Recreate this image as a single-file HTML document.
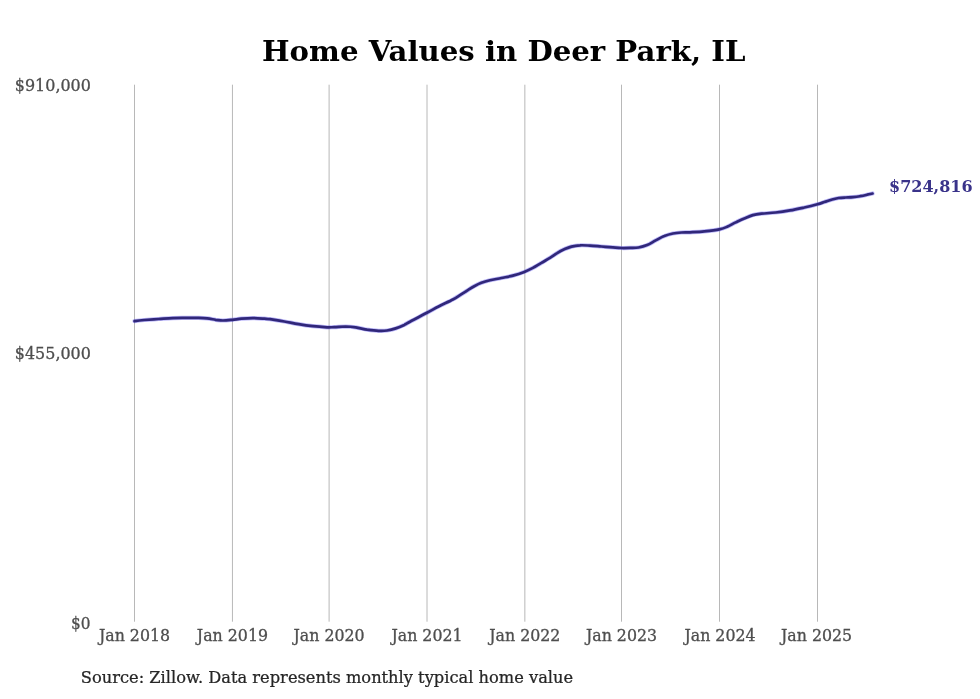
<!DOCTYPE html>
<html lang="en">
<head>
<meta charset="utf-8">
<title>Home Values in Deer Park, IL</title>
<style>
html,body{margin:0;padding:0;background:#fff;}
body{width:980px;height:699px;overflow:hidden;}
svg{display:block;}
text{font-family:"DejaVu Serif","Liberation Serif",serif;}
.title{font-size:29px;font-weight:bold;fill:#000;}
.tick{font-size:15.8px;fill:#4e4e4e;stroke:#4e4e4e;stroke-width:0.3px;}
.src{font-size:16.27px;fill:#262626;stroke:#262626;stroke-width:0.25px;}
.val{font-size:16.7px;font-weight:bold;fill:#3a338a;}
.grid line{stroke:#b8b8b8;stroke-width:1;}
</style>
</head>
<body>
<svg width="980" height="699" viewBox="0 0 980 699">
<rect width="980" height="699" fill="#ffffff"/>
<text class="title" transform="translate(503.75,60.75) scale(1.0065,0.977)" text-anchor="middle">Home Values in Deer Park, IL</text>
<g class="grid">
<line x1="134.50" y1="84.7" x2="134.50" y2="621.7"/>
<line x1="232.45" y1="84.7" x2="232.45" y2="621.7"/>
<line x1="329.10" y1="84.7" x2="329.10" y2="621.7"/>
<line x1="427.00" y1="84.7" x2="427.00" y2="621.7"/>
<line x1="524.85" y1="84.7" x2="524.85" y2="621.7"/>
<line x1="621.50" y1="84.7" x2="621.50" y2="621.7"/>
<line x1="719.50" y1="84.7" x2="719.50" y2="621.7"/>
<line x1="817.50" y1="84.7" x2="817.50" y2="621.7"/>
</g>
<g class="tick">
<text transform="translate(90.9,90.7) scale(1.01,1)" text-anchor="end">$910,000</text>
<text transform="translate(90.9,358.7) scale(1.01,1)" text-anchor="end">$455,000</text>
<text transform="translate(90.6,628.5) scale(0.97,1)" text-anchor="end">$0</text>
<text x="134.50" y="641.1" text-anchor="middle">Jan 2018</text>
<text x="232.45" y="641.1" text-anchor="middle">Jan 2019</text>
<text x="329.10" y="641.1" text-anchor="middle">Jan 2020</text>
<text x="427.00" y="641.1" text-anchor="middle">Jan 2021</text>
<text x="524.85" y="641.1" text-anchor="middle">Jan 2022</text>
<text x="621.50" y="641.1" text-anchor="middle">Jan 2023</text>
<text x="720.00" y="641.1" text-anchor="middle">Jan 2024</text>
<text x="816.60" y="641.1" text-anchor="middle">Jan 2025</text>
</g>
<path d="M134.5,321.1 C136.1,320.9 140.3,320.4 144.3,320.0 C148.3,319.7 153.8,319.3 158.6,319.0 C163.4,318.7 168.2,318.3 172.9,318.1 C177.7,317.9 182.8,317.9 187.1,317.8 C191.4,317.8 195.3,317.9 198.6,317.9 C201.9,318.0 204.2,318.1 207.1,318.4 C209.9,318.7 213.1,319.4 215.7,319.8 C218.3,320.1 220.1,320.5 222.9,320.5 C225.7,320.5 229.3,320.1 232.4,319.8 C235.5,319.5 238.0,319.0 241.4,318.7 C244.8,318.4 249.1,318.1 252.9,318.1 C256.7,318.1 261.4,318.5 264.3,318.7 C267.2,318.9 266.7,318.7 270.0,319.2 C273.3,319.7 279.5,320.7 284.3,321.5 C289.1,322.3 293.8,323.4 298.6,324.1 C303.4,324.9 308.1,325.6 312.9,326.2 C317.6,326.7 323.5,327.1 327.1,327.3 C330.7,327.4 331.2,327.2 334.3,327.1 C337.4,327.0 342.1,326.5 345.7,326.5 C349.3,326.6 352.1,326.9 355.7,327.4 C359.3,327.9 363.3,329.1 367.1,329.7 C370.9,330.2 375.3,330.7 378.6,330.8 C381.9,331.0 384.2,330.9 387.1,330.5 C390.0,330.1 392.8,329.4 395.7,328.4 C398.6,327.5 401.9,326.0 404.3,324.9 C406.7,323.7 406.2,323.7 410.0,321.7 C413.8,319.7 422.1,315.4 426.9,312.8 C431.7,310.3 434.3,308.7 438.6,306.5 C442.9,304.3 449.3,301.4 452.9,299.5 C456.5,297.6 457.6,296.7 460.0,295.2 C462.4,293.7 464.7,292.1 467.1,290.6 C469.5,289.1 471.9,287.5 474.3,286.2 C476.7,284.9 478.8,283.8 481.4,282.8 C484.0,281.8 486.7,281.0 490.0,280.2 C493.3,279.4 497.6,278.8 501.4,278.0 C505.2,277.2 509.1,276.6 512.9,275.6 C516.7,274.6 521.0,273.2 524.3,271.9 C527.6,270.6 530.0,269.4 532.9,267.9 C535.8,266.4 538.5,264.5 541.4,262.9 C544.2,261.2 547.4,259.4 550.0,257.8 C552.6,256.2 554.7,254.5 557.1,253.1 C559.5,251.6 561.9,250.3 564.3,249.2 C566.7,248.2 568.8,247.3 571.4,246.6 C574.0,245.9 576.9,245.4 580.0,245.3 C583.1,245.1 586.4,245.4 590.0,245.6 C593.6,245.8 597.6,246.2 601.4,246.5 C605.2,246.8 609.6,247.1 612.9,247.3 C616.2,247.6 618.5,247.9 621.4,248.0 C624.2,248.1 627.1,248.0 630.0,247.9 C632.9,247.8 635.8,248.0 638.6,247.5 C641.5,247.0 644.2,246.3 647.1,245.1 C650.0,243.9 652.8,241.9 655.7,240.4 C658.6,238.9 661.4,237.2 664.3,236.1 C667.2,234.9 670.0,234.1 672.9,233.5 C675.8,232.9 678.5,232.7 681.4,232.5 C684.2,232.3 686.2,232.5 690.0,232.3 C693.8,232.1 699.4,231.9 704.3,231.4 C709.2,230.9 715.5,230.2 719.3,229.4 C723.1,228.6 724.4,228.0 727.1,226.8 C729.8,225.6 732.8,223.8 735.7,222.4 C738.6,221.0 741.4,219.6 744.3,218.4 C747.2,217.2 750.0,215.9 752.9,215.1 C755.8,214.3 757.6,214.1 761.4,213.7 C765.2,213.3 770.9,213.1 775.7,212.5 C780.5,211.9 785.2,211.2 790.0,210.4 C794.8,209.6 799.7,208.5 804.3,207.5 C808.9,206.5 814.1,205.2 817.4,204.3 C820.7,203.4 822.0,202.8 824.3,202.0 C826.6,201.3 829.0,200.4 831.4,199.7 C833.8,199.1 836.2,198.4 838.6,198.0 C841.0,197.6 843.3,197.6 845.7,197.5 C848.1,197.4 850.5,197.4 852.9,197.2 C855.3,197.0 857.6,196.7 860.0,196.2 C862.4,195.8 865.0,195.2 867.1,194.7 C869.2,194.3 871.6,193.7 872.5,193.5" fill="none" stroke="#5f55f0" stroke-opacity="0.42" stroke-width="4.2" stroke-linecap="round" stroke-linejoin="round"/>
<path d="M134.5,321.1 C136.1,320.9 140.3,320.4 144.3,320.0 C148.3,319.7 153.8,319.3 158.6,319.0 C163.4,318.7 168.2,318.3 172.9,318.1 C177.7,317.9 182.8,317.9 187.1,317.8 C191.4,317.8 195.3,317.9 198.6,317.9 C201.9,318.0 204.2,318.1 207.1,318.4 C209.9,318.7 213.1,319.4 215.7,319.8 C218.3,320.1 220.1,320.5 222.9,320.5 C225.7,320.5 229.3,320.1 232.4,319.8 C235.5,319.5 238.0,319.0 241.4,318.7 C244.8,318.4 249.1,318.1 252.9,318.1 C256.7,318.1 261.4,318.5 264.3,318.7 C267.2,318.9 266.7,318.7 270.0,319.2 C273.3,319.7 279.5,320.7 284.3,321.5 C289.1,322.3 293.8,323.4 298.6,324.1 C303.4,324.9 308.1,325.6 312.9,326.2 C317.6,326.7 323.5,327.1 327.1,327.3 C330.7,327.4 331.2,327.2 334.3,327.1 C337.4,327.0 342.1,326.5 345.7,326.5 C349.3,326.6 352.1,326.9 355.7,327.4 C359.3,327.9 363.3,329.1 367.1,329.7 C370.9,330.2 375.3,330.7 378.6,330.8 C381.9,331.0 384.2,330.9 387.1,330.5 C390.0,330.1 392.8,329.4 395.7,328.4 C398.6,327.5 401.9,326.0 404.3,324.9 C406.7,323.7 406.2,323.7 410.0,321.7 C413.8,319.7 422.1,315.4 426.9,312.8 C431.7,310.3 434.3,308.7 438.6,306.5 C442.9,304.3 449.3,301.4 452.9,299.5 C456.5,297.6 457.6,296.7 460.0,295.2 C462.4,293.7 464.7,292.1 467.1,290.6 C469.5,289.1 471.9,287.5 474.3,286.2 C476.7,284.9 478.8,283.8 481.4,282.8 C484.0,281.8 486.7,281.0 490.0,280.2 C493.3,279.4 497.6,278.8 501.4,278.0 C505.2,277.2 509.1,276.6 512.9,275.6 C516.7,274.6 521.0,273.2 524.3,271.9 C527.6,270.6 530.0,269.4 532.9,267.9 C535.8,266.4 538.5,264.5 541.4,262.9 C544.2,261.2 547.4,259.4 550.0,257.8 C552.6,256.2 554.7,254.5 557.1,253.1 C559.5,251.6 561.9,250.3 564.3,249.2 C566.7,248.2 568.8,247.3 571.4,246.6 C574.0,245.9 576.9,245.4 580.0,245.3 C583.1,245.1 586.4,245.4 590.0,245.6 C593.6,245.8 597.6,246.2 601.4,246.5 C605.2,246.8 609.6,247.1 612.9,247.3 C616.2,247.6 618.5,247.9 621.4,248.0 C624.2,248.1 627.1,248.0 630.0,247.9 C632.9,247.8 635.8,248.0 638.6,247.5 C641.5,247.0 644.2,246.3 647.1,245.1 C650.0,243.9 652.8,241.9 655.7,240.4 C658.6,238.9 661.4,237.2 664.3,236.1 C667.2,234.9 670.0,234.1 672.9,233.5 C675.8,232.9 678.5,232.7 681.4,232.5 C684.2,232.3 686.2,232.5 690.0,232.3 C693.8,232.1 699.4,231.9 704.3,231.4 C709.2,230.9 715.5,230.2 719.3,229.4 C723.1,228.6 724.4,228.0 727.1,226.8 C729.8,225.6 732.8,223.8 735.7,222.4 C738.6,221.0 741.4,219.6 744.3,218.4 C747.2,217.2 750.0,215.9 752.9,215.1 C755.8,214.3 757.6,214.1 761.4,213.7 C765.2,213.3 770.9,213.1 775.7,212.5 C780.5,211.9 785.2,211.2 790.0,210.4 C794.8,209.6 799.7,208.5 804.3,207.5 C808.9,206.5 814.1,205.2 817.4,204.3 C820.7,203.4 822.0,202.8 824.3,202.0 C826.6,201.3 829.0,200.4 831.4,199.7 C833.8,199.1 836.2,198.4 838.6,198.0 C841.0,197.6 843.3,197.6 845.7,197.5 C848.1,197.4 850.5,197.4 852.9,197.2 C855.3,197.0 857.6,196.7 860.0,196.2 C862.4,195.8 865.0,195.2 867.1,194.7 C869.2,194.3 871.6,193.7 872.5,193.5" fill="none" stroke="#30277a" stroke-width="2.7" stroke-linecap="round" stroke-linejoin="round"/>
<text class="val" transform="translate(889.0,192.2) scale(0.96,1)">$724,816</text>
<text class="src" transform="translate(80.8,683.4) scale(0.9995,1)">Source: Zillow. Data represents monthly typical home value</text>
</svg>
</body>
</html>
